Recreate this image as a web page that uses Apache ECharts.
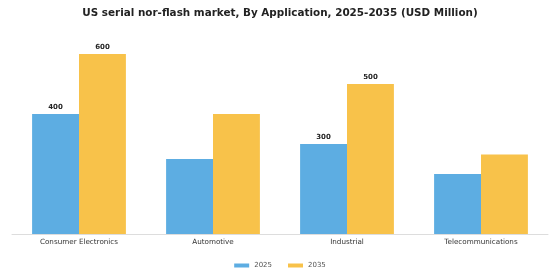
<!DOCTYPE html>
<html>
<head>
<meta charset="utf-8">
<script src="https://cdn.jsdelivr.net/npm/echarts@6/dist/echarts.min.js"></script>
<style>
  html, body { margin: 0; padding: 0; background: #fff; }
  #chart { width: 560px; height: 280px; }
</style>
</head>
<body>
<div id="chart"></div>
<script>
// categories and values
const categories = ['Consumer Electronics', 'Automotive', 'Industrial', 'Telecommunications'];
const years = ['2025', '2035'];
const values2025 = [400, 250, 300, 200];
const values2035 = [600, 400, 500, 265];
// only some bars carry a value label in the original
const labelled2025 = [true, false, true, false];
const labelled2035 = [true, false, true, false];

const fontFamily = 'DejaVu Sans';

function withLabels(values, flags) {
  return values.map(function (v, i) {
    return { value: v, label: { show: flags[i] } };
  });
}

let myChart = echarts.init(document.getElementById('chart'));
myChart.setOption({
  animation: false,
  title: {
    text: 'US serial nor-flash market, By Application, 2025-2035 (USD Million)',
    left: 'center',
    top: 3,
    textStyle: { fontFamily: fontFamily, fontSize: 10.4, fontWeight: 'bold', color: '#222' }
  },
  legend: {
    data: years,
    top: 257,
    left: 'center',
    itemWidth: 15,
    itemHeight: 4,
    itemGap: 16,
    icon: 'rect',
    textStyle: { fontFamily: fontFamily, fontSize: 7, color: '#555' }
  },
  grid: { left: 12, right: 12, top: 54, bottom: 46 },
  xAxis: {
    type: 'category',
    data: categories,
    axisTick: { show: false },
    axisLine: { lineStyle: { color: '#ddd' } },
    axisLabel: { fontFamily: fontFamily, fontSize: 7.2, color: '#333', margin: 5 }
  },
  yAxis: {
    type: 'value',
    min: 0,
    max: 600,
    show: false
  },
  series: [
    {
      name: '2025',
      type: 'bar',
      data: withLabels(values2025, labelled2025),
      barGap: '0%',
      barCategoryGap: '30%',
      itemStyle: { color: '#5DADE2' },
      label: { position: 'top', distance: 3, fontFamily: fontFamily, fontSize: 7, fontWeight: 'bold', color: '#222' }
    },
    {
      name: '2035',
      type: 'bar',
      data: withLabels(values2035, labelled2035),
      barGap: '0%',
      barCategoryGap: '30%',
      itemStyle: { color: '#F8C24A' },
      label: { position: 'top', distance: 3, fontFamily: fontFamily, fontSize: 7, fontWeight: 'bold', color: '#222' }
    }
  ]
});
</script>
</body>
</html>
